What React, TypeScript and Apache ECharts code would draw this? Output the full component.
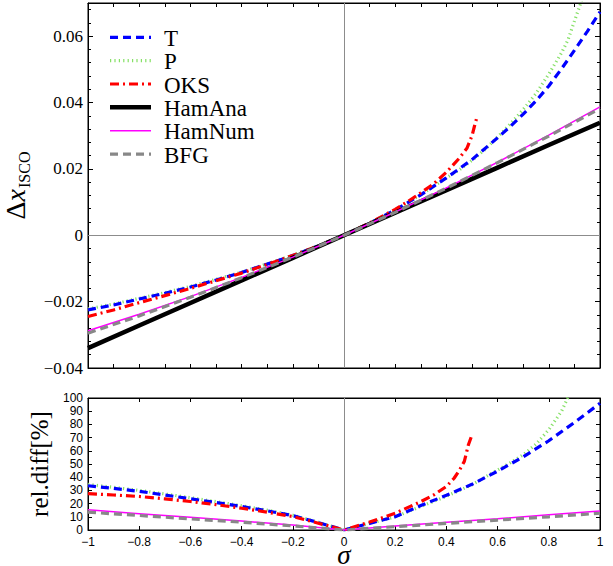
import React, { useEffect, useRef } from "react";
import * as echarts from "echarts";

// ---------- data ----------
// Top panel: Delta x_ISCO vs sigma
const tSigma = [-1, -0.9, -0.8, -0.7, -0.6, -0.5, -0.4, -0.3, -0.2, -0.1, 0, 0.1, 0.2, 0.3, 0.4, 0.5, 0.55, 0.6, 0.65, 0.7, 0.75, 0.8, 0.85, 0.9, 0.95, 1];
const tTop = [-0.0225, -0.021, -0.0192, -0.0175, -0.0156, -0.0135, -0.0112, -0.0087, -0.0061, -0.0032, 0, 0.0036, 0.0076, 0.0122, 0.0173, 0.0228, 0.0261, 0.0294, 0.0328, 0.0365, 0.0405, 0.045, 0.0502, 0.0557, 0.0614, 0.0673];

const pSigma = [-1, -0.9, -0.8, -0.7, -0.6, -0.5, -0.4, -0.3, -0.2, -0.1, 0, 0.1, 0.2, 0.3, 0.4, 0.45, 0.5, 0.55, 0.6, 0.65, 0.7, 0.75, 0.8, 0.85, 0.875, 0.9, 0.925, 0.95];
const pTop = [-0.0222, -0.0207, -0.019, -0.0173, -0.0154, -0.0133, -0.0111, -0.0086, -0.006, -0.0032, 0, 0.0036, 0.0076, 0.0122, 0.0173, 0.0197, 0.0226, 0.0258, 0.0296, 0.0336, 0.0379, 0.0427, 0.0486, 0.055, 0.0589, 0.0645, 0.07, 0.076];

const oksSigma = [-1, -0.9, -0.8, -0.7, -0.6, -0.5, -0.4, -0.3, -0.2, -0.1, 0, 0.1, 0.2, 0.25, 0.3, 0.35, 0.4, 0.45, 0.48, 0.5, 0.51, 0.52];
const oksTop = [-0.0245, -0.0225, -0.0203, -0.0182, -0.016, -0.0137, -0.0114, -0.0088, -0.0061, -0.0032, 0, 0.0037, 0.0078, 0.0102, 0.0128, 0.0155, 0.019, 0.0232, 0.0262, 0.03, 0.033, 0.0358];

const hamSigma = [-1, -0.8, -0.6, -0.4, -0.2, 0, 0.2, 0.4, 0.6, 0.8, 1];
const hamAnaTop = [-0.034, -0.0272, -0.0204, -0.0136, -0.0068, 0, 0.0068, 0.0136, 0.0204, 0.0272, 0.0339];
const hamNumTop = [-0.0288, -0.0238, -0.0185, -0.0127, -0.0066, 0, 0.007, 0.0143, 0.022, 0.0302, 0.0387];
const bfgTop = [-0.0295, -0.0243, -0.0187, -0.0128, -0.0066, 0, 0.0069, 0.0142, 0.0219, 0.0299, 0.0382];

// Bottom panel: relative difference [%]
const tRelSigma = [-1, -0.9, -0.8, -0.7, -0.6, -0.5, -0.4, -0.3, -0.2, -0.1, 0, 0.1, 0.2, 0.3, 0.4, 0.5, 0.6, 0.7, 0.8, 0.9, 1];
const tRel = [33.5, 31.5, 29.3, 26.5, 23.7, 20.8, 17.8, 14.5, 10.9, 5.6, 0, 5.0, 10.1, 18.5, 26.3, 34.6, 44.6, 55.4, 67.6, 81.5, 96];

const pRelSigma = [-1, -0.9, -0.8, -0.7, -0.6, -0.5, -0.4, -0.3, -0.2, -0.1, 0, 0.1, 0.2, 0.3, 0.4, 0.5, 0.6, 0.65, 0.7, 0.75, 0.8, 0.85, 0.875, 0.9];
const pRel = [34.5, 32.3, 30.0, 27.3, 24.5, 21.5, 18.4, 15.0, 11.2, 5.8, 0, 5.0, 10.0, 17.8, 25.5, 34.3, 45.5, 51, 57, 65, 76, 90, 100.5, 108];

const oksRelSigma = [-1, -0.9, -0.8, -0.7, -0.6, -0.5, -0.4, -0.3, -0.2, -0.1, 0, 0.1, 0.2, 0.3, 0.35, 0.4, 0.43, 0.45, 0.47, 0.486, 0.5];
const oksRel = [27.5, 26.5, 25.4, 23.6, 21.6, 19.2, 16.5, 13.5, 10.2, 5.1, 0, 6.0, 12.7, 21.5, 26.5, 33, 39.2, 45, 52, 64.6, 72];

const hamRelSigma = [-1, -0.8, -0.6, -0.4, -0.2, 0, 0.2, 0.4, 0.6, 0.8, 1];
const hamNumRel = [15.3, 12.4, 9.6, 6.8, 3.7, 0, 3.0, 5.8, 8.5, 11.5, 14.4];
const bfgRel = [13.5, 11.0, 8.4, 5.9, 3.1, 0, 2.5, 5.0, 7.5, 10.0, 12.7];

const legendNames = ["T", "P", "OKS", "HamAna", "HamNum", "BFG"];

// ---------- styles ----------
const SERIF = "'Liberation Serif', 'Times New Roman', serif";
const SANS = "'Liberation Sans', Arial, sans-serif";

const styles: Record<string, any> = {
  T: { color: "#0000ff", width: 3.2, type: [8, 5] },
  P: { color: "#86e066", width: 3.2, type: [1.2, 3.2] },
  OKS: { color: "#ff0000", width: 3.2, type: [9, 4, 2, 4] },
  HamAna: { color: "#000000", width: 4.5, type: "solid" },
  HamNum: { color: "#ff00ff", width: 1.5, type: "solid" },
  BFG: { color: "#888888", width: 3.2, type: [8, 5] },
};

const zip = (xs: number[], ys: number[]) => xs.map((x, i) => [x, ys[i]]);

const minus = (s: string) => s.replace("-", "\u2212");

function mkSeries(name: string, xs: number[], ys: number[], grid: number, z: number) {
  const st = styles[name];
  return {
    name,
    type: "line",
    xAxisIndex: grid === 0 ? 0 : 2,
    yAxisIndex: grid === 0 ? 0 : 2,
    data: zip(xs, ys),
    showSymbol: false,
    symbol: "none",
    clip: true,
    z,
    lineStyle: { color: st.color, width: st.width, type: st.type, cap: "butt" },
    itemStyle: { color: st.color },
    emphasis: { disabled: true },
  };
}

// legend layout (position only)
const LEG_X0 = 110;
const LEG_X1 = 151;
const LEG_TEXT_X = 164;
const LEG_Y0 = 37.3;
const LEG_DY = 23.35;

function legendGraphic() {
  const children: any[] = [];
  legendNames.forEach((name, i) => {
    const st = styles[name];
    const y = LEG_Y0 + i * LEG_DY;
    children.push({
      type: "line",
      shape: { x1: LEG_X0, y1: y, x2: LEG_X1, y2: y },
      style: {
        stroke: st.color,
        lineWidth: st.width,
        lineDash: Array.isArray(st.type) ? st.type : null,
        lineCap: "butt",
      },
      silent: true,
    });
    children.push({
      type: "text",
      x: LEG_TEXT_X,
      y: y + 1,
      style: {
        text: name,
        fontFamily: SERIF,
        fontSize: 23,
        fill: "#000",
        verticalAlign: "middle",
        align: "left",
      },
      silent: true,
    });
  });
  return [{ type: "group", children }];
}

export default function App() {
  const ref = useRef<HTMLDivElement>(null);

  useEffect(() => {
    if (!ref.current) return;
    const chart = echarts.init(ref.current, undefined, { renderer: "svg" });

    const axisLine = { show: true, onZero: false, lineStyle: { color: "#000", width: 1 } };
    const tickStyle = { color: "#000", width: 1 };

    const option: any = {
      animation: false,
      backgroundColor: "#ffffff",
      grid: [
        {
          left: 88, top: 3, width: 512, height: 365, show: true, borderColor: "#000", borderWidth: 1,
          backgroundColor: "transparent", containLabel: false, outerBoundsMode: "none",
        },
        {
          left: 88, top: 398, width: 512, height: 132, show: true, borderColor: "#000", borderWidth: 1,
          backgroundColor: "transparent", containLabel: false, outerBoundsMode: "none",
        },
      ],
      graphic: legendGraphic(),
      xAxis: [
        {
          type: "value", gridIndex: 0, position: "bottom", min: -1, max: 1, interval: 0.1,
          axisLine, axisTick: { inside: true, length: 4, lineStyle: tickStyle },
          axisLabel: { show: false }, splitLine: { show: false },
        },
        {
          type: "value", gridIndex: 0, position: "top", min: -1, max: 1, interval: 0.1,
          axisLine, axisTick: { inside: true, length: 4, lineStyle: tickStyle },
          axisLabel: { show: false }, splitLine: { show: false },
        },
        {
          type: "value", gridIndex: 1, position: "bottom", min: -1, max: 1, interval: 0.2,
          axisLine, axisTick: { inside: true, length: 4, lineStyle: tickStyle },
          axisLabel: {
            fontFamily: SANS, fontSize: 12, lineHeight: 12, color: "#000", margin: 6,
            showMinLabel: true, showMaxLabel: true,
            formatter: (v: number) => {
              if (Math.abs(v) < 1e-9) return "0";
              if (Math.abs(Math.abs(v) - 1) < 1e-9) return minus(String(Math.round(v)));
              return minus(v.toFixed(1));
            },
          },
          splitLine: { show: false },
          name: "\u03c3",
          nameLocation: "middle",
          nameGap: 25,
          nameMoveOverlap: false,
          nameTextStyle: {
            fontFamily: SERIF, fontSize: 27, fontStyle: "italic", color: "#000",
            lineHeight: 16, verticalAlign: "middle",
          },
        },
        {
          type: "value", gridIndex: 1, position: "top", min: -1, max: 1, interval: 0.2,
          axisLine, axisTick: { inside: true, length: 4, lineStyle: tickStyle },
          axisLabel: { show: false }, splitLine: { show: false },
        },
      ],
      yAxis: [
        {
          type: "value", gridIndex: 0, position: "left", min: -0.04, max: 0.07, interval: 0.02,
          axisLine,
          axisTick: { inside: true, length: 5, lineStyle: tickStyle },
          minorTick: { show: true, splitNumber: 5, length: 3, lineStyle: tickStyle },
          axisLabel: {
            fontFamily: SERIF, fontSize: 17, color: "#000", margin: 5,
            formatter: (v: number) => {
              const k = Math.round(v / 0.02);
              if (Math.abs(v - k * 0.02) > 1e-9) return "";
              if (k === 0) return "0";
              return minus((k * 0.02).toFixed(2));
            },
          },
          splitLine: { show: false },
          name: "{d|\u0394}{x|x}{s|ISCO}",
          nameLocation: "middle",
          nameRotate: 90,
          nameGap: 50,
          nameTextStyle: {
            rich: {
              d: { fontFamily: SERIF, fontSize: 28, color: "#000", lineHeight: 34, verticalAlign: "middle" },
              x: { fontFamily: SERIF, fontSize: 28, fontStyle: "italic", color: "#000", lineHeight: 34, verticalAlign: "middle" },
              s: { fontFamily: SERIF, fontSize: 16, color: "#000", lineHeight: 34, verticalAlign: "bottom", padding: [14, 0, 0, 1] },
            },
          },
        },
        {
          type: "value", gridIndex: 0, position: "right", min: -0.04, max: 0.07, interval: 0.02,
          axisLine,
          axisTick: { inside: true, length: 5, lineStyle: tickStyle },
          minorTick: { show: true, splitNumber: 5, length: 3, lineStyle: tickStyle },
          axisLabel: { show: false }, splitLine: { show: false },
        },
        {
          type: "value", gridIndex: 1, position: "left", min: 0, max: 100, interval: 10,
          axisLine,
          axisTick: { inside: true, length: 4, lineStyle: tickStyle },
          axisLabel: {
            fontFamily: SANS, fontSize: 12, lineHeight: 12, color: "#000", margin: 5,
            showMinLabel: true, showMaxLabel: true, hideOverlap: false,
          },
          splitLine: { show: false },
          name: "rel.diff[%]",
          nameLocation: "middle",
          nameRotate: 90,
          nameGap: 33,
          nameTextStyle: { fontFamily: SERIF, fontSize: 25, color: "#000" },
        },
        {
          type: "value", gridIndex: 1, position: "right", min: 0, max: 100, interval: 10,
          axisLine,
          axisTick: { inside: true, length: 4, lineStyle: tickStyle },
          axisLabel: { show: false }, splitLine: { show: false },
        },
      ],
      series: [
        // zero reference lines
        {
          type: "line", xAxisIndex: 0, yAxisIndex: 0, data: [], z: 1, silent: true,
          markLine: {
            silent: true, symbol: "none", label: { show: false }, animation: false,
            lineStyle: { color: "#8c8c8c", width: 1, type: "solid" },
            data: [{ xAxis: 0 }, { yAxis: 0 }],
          },
        },
        {
          type: "line", xAxisIndex: 2, yAxisIndex: 2, data: [], z: 1, silent: true,
          markLine: {
            silent: true, symbol: "none", label: { show: false }, animation: false,
            lineStyle: { color: "#8c8c8c", width: 1, type: "solid" },
            data: [{ xAxis: 0 }],
          },
        },
        // top panel
        mkSeries("P", pSigma, pTop, 0, 2),
        mkSeries("T", tSigma, tTop, 0, 3),
        mkSeries("OKS", oksSigma, oksTop, 0, 4),
        mkSeries("HamAna", hamSigma, hamAnaTop, 0, 5),
        mkSeries("HamNum", hamSigma, hamNumTop, 0, 6),
        mkSeries("BFG", hamSigma, bfgTop, 0, 7),
        // bottom panel
        mkSeries("P", pRelSigma, pRel, 1, 2),
        mkSeries("T", tRelSigma, tRel, 1, 3),
        mkSeries("OKS", oksRelSigma, oksRel, 1, 4),
        mkSeries("HamNum", hamRelSigma, hamNumRel, 1, 6),
        mkSeries("BFG", hamRelSigma, bfgRel, 1, 7),
      ],
    };

    chart.setOption(option);
    return () => chart.dispose();
  }, []);

  return (
    <div
      ref={ref}
      style={{ position: "fixed", left: 0, top: 0, width: 613, height: 566, background: "#fff" }}
    />
  );
}
